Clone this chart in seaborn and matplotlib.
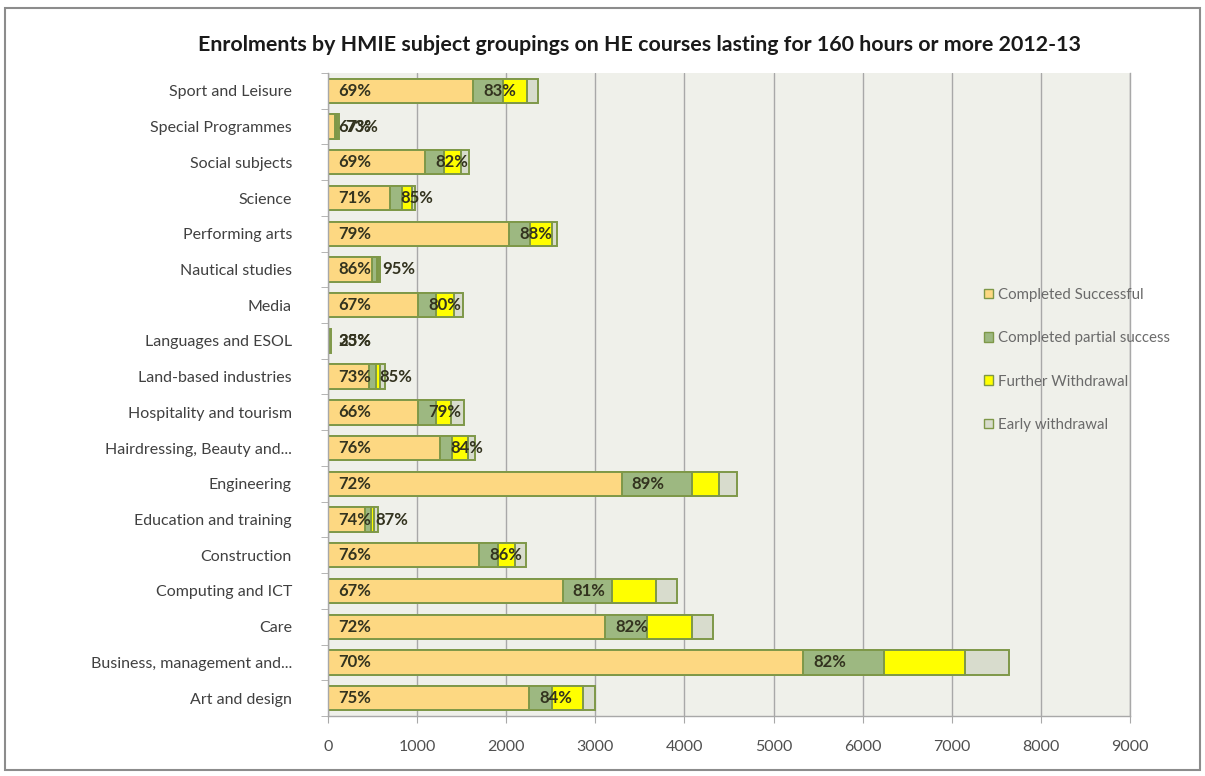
import matplotlib
matplotlib.use("Agg")
import matplotlib.pyplot as plt
import seaborn as sns
import pandas as pd
import numpy as np
from matplotlib.patches import Patch, Rectangle

categories = ["Art and design", "Business, management and...", "Care", "Computing and ICT",
              "Construction", "Education and training", "Engineering",
              "Hairdressing, Beauty and...", "Hospitality and tourism", "Land-based industries",
              "Languages and ESOL", "Media", "Nautical studies", "Performing arts", "Science",
              "Social subjects", "Special Programmes", "Sport and Leisure"]
completed_successful = [2260, 5331, 3109, 2634, 1695, 415, 3296, 1260, 1010, 465, 7, 1015, 499, 2030, 696, 1093, 82, 1630]
completed_partial = [250, 912, 468, 550, 215, 73, 790, 130, 200, 75, 3, 200, 52, 235, 138, 207, 8, 333]
further_withdrawal = [348, 902, 512, 497, 190, 25, 300, 185, 170, 45, 6, 200, 10, 250, 110, 193, 10, 270]
early_withdrawal = [139, 492, 235, 240, 120, 47, 204, 75, 150, 55, 14, 100, 19, 60, 37, 92, 22, 119]
success_labels = ["75%", "70%", "72%", "67%", "76%", "74%", "72%", "76%", "66%", "73%", "25%",
                  "67%", "86%", "79%", "71%", "69%", "67%", "69%"]
completion_labels = ["84%", "82%", "82%", "81%", "86%", "87%", "89%", "84%", "79%", "85%", "33%",
                     "80%", "95%", "88%", "85%", "82%", "73%", "83%"]
series_names = ["Completed Successful", "Completed partial success", "Further Withdrawal", "Early withdrawal"]
x_ticks = [0, 1000, 2000, 3000, 4000, 5000, 6000, 7000, 8000, 9000]
title = "Enrolments by HMIE subject groupings on HE courses lasting for 160 hours or more 2012-13"

colors = ["#FDD882", "#9DB881", "#FFFF00", "#D8DCCD"]
edge = "#7E9848"

sns.set_style("white")
plt.rcParams["font.family"] = ["Lato", "DejaVu Sans"]

df = pd.DataFrame({
    "category": categories,
    "s1": completed_successful,
    "s2": completed_partial,
    "s3": further_withdrawal,
    "s4": early_withdrawal,
})
df["c1"] = df["s1"]
df["c2"] = df["c1"] + df["s2"]
df["c3"] = df["c2"] + df["s3"]
df["c4"] = df["c3"] + df["s4"]
order = categories[::-1]

fig = plt.figure(figsize=(12.05, 7.76), dpi=100)
ax = fig.add_axes([328 / 1205, 1 - 716 / 776, (1130 - 328) / 1205, (716 - 73) / 776])
ax.set_facecolor("#EFF0EA")

for col, colr in zip(["c4", "c3", "c2", "c1"], colors[::-1]):
    sns.barplot(data=df, x=col, y="category", order=order, color=colr, saturation=1,
                edgecolor=edge, linewidth=1.4, width=0.68, errorbar=None, ax=ax)

ax.set_xlim(0, 9000)
ax.set_ylim(len(order) - 0.5, -0.5)
ax.set_xticks(x_ticks)
ax.set_axisbelow(True)
ax.xaxis.grid(True, color="#A8A8A8", linewidth=1)
ax.yaxis.grid(False)
ax.set_xlabel("")
ax.set_ylabel("")
ax.spines["top"].set_visible(False)
for s in ["left", "bottom", "right"]:
    ax.spines[s].set_color("#A8A8A8")
    ax.spines[s].set_linewidth(1)

ax.set_yticks(np.arange(-0.5, len(order), 1), minor=True)
ax.tick_params(axis="y", which="major", length=0, pad=26, labelsize=11.5, labelcolor="#404040")
ax.tick_params(axis="y", which="minor", length=5, color="#A8A8A8", direction="out", left=True)
ax.tick_params(axis="x", which="major", length=5, color="#A8A8A8", direction="out", bottom=True,
               pad=12, labelsize=11.5, labelcolor="#505050")

pos = {c: i for i, c in enumerate(order)}
for cat, v1, l1, l2 in zip(categories, completed_successful, success_labels, completion_labels):
    y = pos[cat]
    ax.annotate(l1, xy=(0, y), xytext=(10, 0), textcoords="offset pixels", ha="left", va="center",
                fontsize=12, fontweight="bold", color="#33331F")
    ax.annotate(l2, xy=(v1, y), xytext=(10, 0), textcoords="offset pixels", ha="left", va="center",
                fontsize=12, fontweight="bold", color="#33331F")

fig.text(640 / 1205, 1 - 45 / 776, title, ha="center", va="center", fontsize=15.4, fontweight="bold",
         color="#1A1A1A")

handles = [Patch(facecolor=c, edgecolor=edge, linewidth=1) for c in colors]
fig.legend(handles, series_names, loc="upper left", bbox_to_anchor=(984 / 1205, 1 - 288 / 776),
           frameon=False, fontsize=10.8, labelspacing=1.95, handlelength=0.6, handleheight=0.6,
           handletextpad=0.3, labelcolor="#6A6A6A", borderaxespad=0, borderpad=0)

fig.patches.append(Rectangle((0.004, 0.008), 0.992, 0.982, transform=fig.transFigure, fill=False,
                             edgecolor="#8C8C8C", linewidth=1.5))

fig.savefig("out.png", dpi=100)
